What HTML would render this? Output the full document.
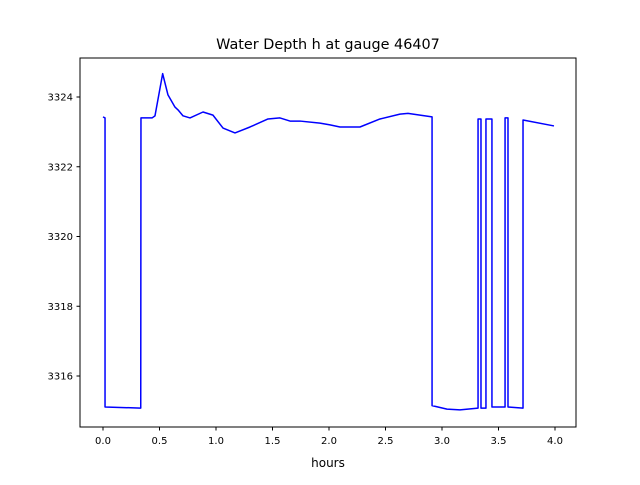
<!DOCTYPE html>
<html><head><meta charset="utf-8"><style>body{margin:0;background:#fff}svg text{font-family:"DejaVu Sans","Liberation Sans",sans-serif}</style></head>
<body>
<svg width="640" height="480" viewBox="0 0 640 480">
<rect width="640" height="480" fill="#fff"/>
<text x="328" y="49" font-size="14.4" text-anchor="middle">Water Depth h at gauge 46407</text>
<g id="plot"></g>
<rect x="80" y="58" width="496" height="369" fill="none" stroke="#000" stroke-width="1"/>
<text x="328" y="467" font-size="12" text-anchor="middle">hours</text>
</svg>
<script>
const xTicks=[0,0.5,1,1.5,2,2.5,3,3.5,4];
const xTickLabels=["0.0","0.5","1.0","1.5","2.0","2.5","3.0","3.5","4.0"];
const yTicks=[3316,3318,3320,3322,3324];
const yTickLabels=["3316","3318","3320","3322","3324"];
const hours=[0.0,0.018,0.018,0.334,0.336,0.434,0.46,0.528,0.575,0.637,0.664,0.708,0.77,0.885,0.973,1.062,1.168,1.301,1.46,1.566,1.655,1.743,1.92,2.009,2.097,2.274,2.451,2.628,2.699,2.805,2.912,2.912,3.044,3.159,3.319,3.319,3.345,3.345,3.389,3.389,3.442,3.442,3.558,3.558,3.584,3.584,3.717,3.717,3.991];
const depth=[3323.43,3323.40,3315.11,3315.08,3323.40,3323.40,3323.46,3324.67,3324.06,3323.71,3323.63,3323.46,3323.40,3323.57,3323.48,3323.11,3322.97,3323.14,3323.37,3323.40,3323.31,3323.31,3323.25,3323.20,3323.14,3323.14,3323.37,3323.51,3323.53,3323.48,3323.43,3315.15,3315.05,3315.03,3315.08,3323.37,3323.37,3315.08,3315.08,3323.37,3323.37,3315.11,3315.11,3323.40,3323.40,3315.11,3315.08,3323.34,3323.17];
const sx=v=>103+v*113;
const sy=v=>97+(3324-v)*34.875;
const NS="http://www.w3.org/2000/svg";
const g=document.getElementById('plot');
function mk(t,a){const e=document.createElementNS(NS,t);for(const k in a)e.setAttribute(k,a[k]);g.appendChild(e);return e;}
xTicks.forEach((v,i)=>{
 const l=mk('line',{x1:sx(v),x2:sx(v),y1:427,y2:430.5,stroke:'#000'});
 
 
 const t=mk('text',{x:sx(v),y:444,'font-size':10,'text-anchor':'middle'});
 t.textContent=xTickLabels[i];
 
 
});
yTicks.forEach((v,i)=>{
 const l=mk('line',{x1:76.5,x2:80,y1:sy(v),y2:sy(v),stroke:'#000'});
 
 
 const t=mk('text',{x:73,y:sy(v)+3.5,'font-size':10,'text-anchor':'end'});
 t.textContent=yTickLabels[i];
 
 
});
const p=mk('polyline',{points:hours.map((h,i)=>sx(h)+','+sy(depth[i])).join(' '),fill:'none',stroke:'#0000ff','stroke-width':1.5,'stroke-linejoin':'round'});


</script>
</body></html>
